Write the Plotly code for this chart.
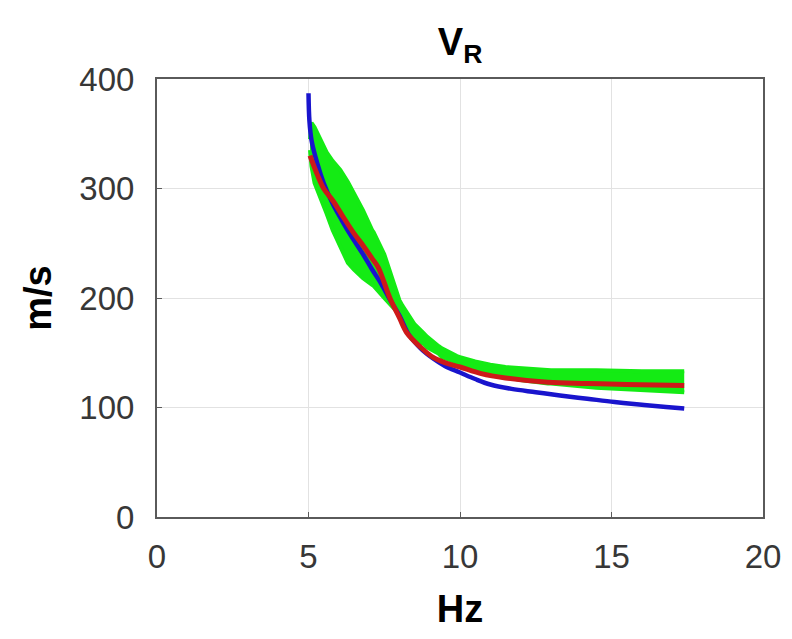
import plotly.graph_objects as go

# Rayleigh-wave phase velocity dispersion curves (frequency in Hz, velocity in m/s)
blue_hz = [5.0, 5.03, 5.1, 5.3, 5.5, 5.8, 6.1, 6.4, 6.8, 7.1, 7.4, 7.7, 8.0, 8.3,
           8.7, 9.1, 9.5, 10.0, 10.5, 11.0, 11.7, 12.5, 13.3, 14.2, 15.1, 16.0, 16.8, 17.4]
blue_vel = [387, 362, 344, 322, 305, 286, 271, 257, 240, 226, 213, 198, 184, 167,
            154, 145, 138, 132, 126, 121, 117, 114, 111, 108, 105, 102.5, 100.5, 99]

red_hz = [5.05, 5.3, 5.5, 5.8, 6.1, 6.5, 6.8, 7.1, 7.3, 7.7, 8.0, 8.25, 8.7, 9.1,
          9.5, 10.0, 10.7, 11.5, 12.9, 14.2, 15.5, 17.4]
red_vel = [330, 312, 300, 289, 276, 259, 248, 236, 228, 199, 182, 168, 155, 146,
           141, 137, 131, 127, 123, 122, 121, 120]

green_hz = [5.05, 5.1, 5.2, 5.3, 5.45, 5.6, 5.8, 6.05, 6.3, 6.5, 6.7, 6.8, 7.1, 7.15,
            7.5, 7.6, 7.8, 8.0, 8.1, 8.4, 8.5, 8.8, 8.9, 9.3, 9.4, 9.9, 10.0, 10.5,
            11.0, 11.5, 12.0, 12.9, 13.0, 14.5, 16.0, 17.4]
green_upper = [345, 360, 356, 350, 340, 333, 325, 317, 306, 296, 285, 280, 262, 260,
               240, 232, 214, 198, 193, 180, 176, 168, 165, 156, 154, 147, 146, 142,
               139, 137, 136, 134, 134, 134, 133, 133]
green_lower = [335, 320, 305, 298, 289, 277, 262, 246, 232, 226, 220, 218, 212, 211,
               200, 197, 190, 185, 178, 168, 163, 158, 155, 149, 146, 141, 139, 135,
               131, 128, 125, 122, 122, 118, 116, 114]

x_ticks = [0, 5, 10, 15, 20]
y_ticks = [0, 100, 200, 300, 400]

GREEN = "rgb(20,235,20)"
BLUE = "rgb(25,20,205)"
RED = "rgb(205,25,25)"

fig = go.Figure()

# spread of the green realisations, drawn as a filled band
fig.add_trace(go.Scatter(x=green_hz, y=green_lower, mode="lines",
                         line=dict(color=GREEN, width=4), showlegend=False,
                         hoverinfo="skip"))
fig.add_trace(go.Scatter(x=green_hz, y=green_upper, mode="lines",
                         line=dict(color=GREEN, width=4), fill="tonexty",
                         fillcolor=GREEN, showlegend=False, hoverinfo="skip"))

fig.add_trace(go.Scatter(x=blue_hz, y=blue_vel, mode="lines",
                         line=dict(color=BLUE, width=4.5, shape="spline"),
                         showlegend=False))
fig.add_trace(go.Scatter(x=red_hz, y=red_vel, mode="lines",
                         line=dict(color=RED, width=5, shape="spline"),
                         showlegend=False))

axis_common = dict(
    showgrid=True, gridcolor="rgb(226,226,226)", gridwidth=1,
    showline=True, linecolor="rgb(90,90,90)", linewidth=2, mirror=True,
    ticks="inside", ticklen=5, tickcolor="rgb(90,90,90)",
    tickfont=dict(family="Liberation Sans, Arial", size=33, color="rgb(55,55,55)"),
    zeroline=False,
)

fig.update_layout(
    width=792, height=639,
    margin=dict(l=157, r=29, t=79, b=122),
    paper_bgcolor="white", plot_bgcolor="white",
    title=dict(text="<b>V<sub>R</sub></b>", x=0.581, xanchor="center",
               y=0.935, yanchor="middle",
               font=dict(family="Liberation Sans, Arial", size=38, color="black")),
    xaxis=dict(range=[0, 20], tickvals=x_ticks, ticktext=[str(v) for v in x_ticks],
               ticklabelstandoff=9,
               title=dict(text="<b>Hz</b>", standoff=22,
                          font=dict(family="Liberation Sans, Arial", size=38, color="black")),
               **axis_common),
    yaxis=dict(range=[0, 400], tickvals=y_ticks, ticktext=[str(v) for v in y_ticks],
               ticklabelstandoff=14,
               title=dict(text="<b>m/s</b>", standoff=16,
                          font=dict(family="Liberation Sans, Arial", size=38, color="black")),
               **axis_common),
)

fig.write_html("out.html")
